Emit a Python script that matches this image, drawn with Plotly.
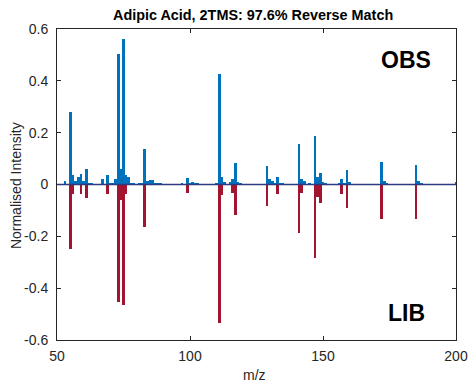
import plotly.graph_objects as go

obs_mz = [53, 55, 56, 57, 58, 59, 60, 61, 62, 63, 67, 69, 70, 71, 72, 73, 74, 75, 76, 77, 78, 79,
          81, 82, 83, 84, 85, 86, 87, 88, 89, 97, 99, 100, 101, 102, 103, 110, 111, 112, 113,
          115, 116, 117, 118, 119, 129, 130, 131, 132, 133, 134, 135, 141, 142, 143, 145, 147,
          148, 149, 150, 151, 156, 157, 158, 159, 160, 161, 171, 172, 173, 174, 185, 186, 187, 200]
obs_int = [0.012, 0.278, 0.035, 0.012, 0.028, 0.042, 0.012, 0.058, 0.005, 0.004, 0.02, 0.038,
           0.004, 0.005, 0.022, 0.502, 0.058, 0.562, 0.038, 0.03, 0.005, 0.004, 0.006, 0.006,
           0.136, 0.012, 0.018, 0.018, 0.006, 0.004, 0.004, 0.004, 0.025, 0.005, 0.01, 0.004,
           0.004, 0.004, 0.425, 0.029, 0.009, 0.01, 0.022, 0.084, 0.009, 0.004, 0.071, 0.02,
           0.014, 0.006, 0.03, 0.005, 0.004, 0.157, 0.023, 0.013, 0.007, 0.186, 0.03, 0.046,
           0.008, 0.004, 0.004, 0.022, 0.005, 0.055, 0.008, 0.003, 0.003, 0.085, 0.015, 0.005,
           0.076, 0.013, 0.004, 0.01]

lib_mz = [55, 56, 59, 61, 69, 73, 74, 75, 76, 83, 99, 111, 112, 116, 117, 129, 133, 141, 142,
          147, 148, 149, 157, 159, 172, 185]
lib_int = [-0.248, -0.038, -0.038, -0.052, -0.038, -0.455, -0.058, -0.464, -0.038, -0.163,
           -0.032, -0.535, -0.041, -0.031, -0.116, -0.084, -0.038, -0.189, -0.032, -0.283,
           -0.048, -0.071, -0.036, -0.09, -0.134, -0.134]

y_ticks = [-0.6, -0.4, -0.2, 0, 0.2, 0.4, 0.6]
y_labels = ["-0.6", "-0.4", "-0.2", "0", "0.2", "0.4", "0.6"]
x_ticks = [50, 100, 150, 200]

FONT = "Liberation Sans, Arial, Helvetica, sans-serif"
AX = "#262626"

fig = go.Figure()
fig.add_trace(go.Bar(x=obs_mz, y=obs_int, width=1.0, marker=dict(color="#0072BD", line_width=0),
                     name="OBS", showlegend=False))
fig.add_trace(go.Bar(x=lib_mz, y=lib_int, width=1.0, marker=dict(color="#A2142F", line_width=0),
                     name="LIB", showlegend=False))

fig.add_shape(type="line", xref="x", yref="y", x0=50, x1=200, y0=0, y1=0,
              line=dict(color="#2E3A80", width=1.5), layer="above")

fig.add_annotation(x=181.3, y=0.479, xref="x", yref="y", text="<b>OBS</b>", showarrow=False,
                   xanchor="center", yanchor="middle",
                   font=dict(family=FONT, size=23, color="black"))
fig.add_annotation(x=181.3, y=-0.494, xref="x", yref="y", text="<b>LIB</b>", showarrow=False,
                   xanchor="center", yanchor="middle",
                   font=dict(family=FONT, size=23, color="black"))

# titles as paper annotations
fig.add_annotation(x=0.491, y=1.045, xref="paper", yref="paper", showarrow=False,
                   xanchor="center", yanchor="middle",
                   text="<b>Adipic Acid, 2TMS: 97.6% Reverse Match</b>",
                   font=dict(family=FONT, size=14.4, color="black"))
fig.add_annotation(x=0.496, y=-0.1125, xref="paper", yref="paper", showarrow=False,
                   xanchor="center", yanchor="middle",
                   text="m/z", font=dict(family=FONT, size=14, color=AX))
fig.add_annotation(x=-0.1028, y=0.498, xref="paper", yref="paper", showarrow=False,
                   xanchor="center", yanchor="middle",
                   text="Normalised Intensity", textangle=-90,
                   font=dict(family=FONT, size=14, color=AX))

fig.update_layout(
    width=468, height=383,
    margin=dict(l=57, r=12, t=29, b=43, autoexpand=False),
    paper_bgcolor="white", plot_bgcolor="white",
    barmode="overlay", bargap=0,
    font=dict(family=FONT, size=14, color=AX),
)
fig.update_xaxes(range=[50, 200], tickvals=x_ticks, ticks="inside", ticklen=4, tickcolor=AX,
                 showline=True, linecolor=AX, linewidth=1, mirror="ticks", showgrid=False,
                 zeroline=False, automargin=False, ticklabelstandoff=3)
fig.update_yaxes(range=[-0.6, 0.6], tickvals=y_ticks, ticktext=y_labels, ticks="inside",
                 ticklen=4, tickcolor=AX, showline=True, linecolor=AX, linewidth=1,
                 mirror="ticks", showgrid=False, zeroline=False, automargin=False,
                 ticklabelstandoff=5)

# remove the default 8px page margin so the 468x383 figure fills the window exactly
fig.write_html("out.html",
               config={"displayModeBar": False, "staticPlot": True},
               post_script="document.body.style.margin='0';document.body.style.overflow='hidden';")
